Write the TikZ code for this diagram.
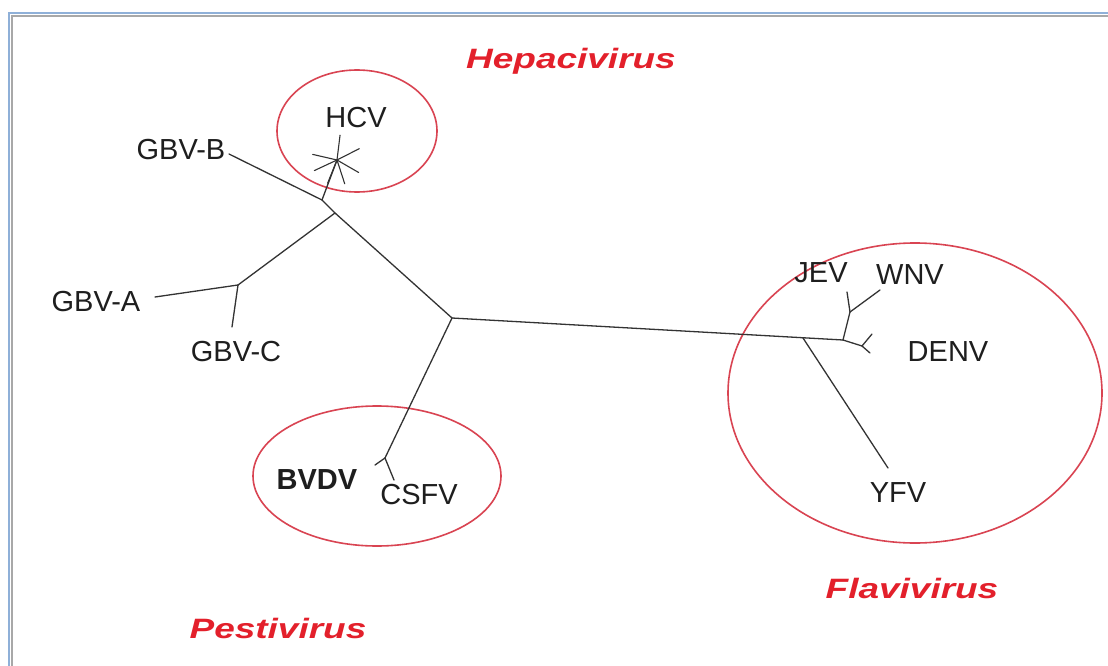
\documentclass[tikz,border=0pt]{standalone}
\usepackage{fontspec}
\usepackage{graphicx}
\setmainfont{Liberation Sans}
\definecolor{circred}{HTML}{D94452}
\definecolor{labred}{HTML}{E3202B}
\definecolor{branch}{HTML}{333333}
\definecolor{txt}{HTML}{1E1E1E}
\definecolor{frameblue}{HTML}{8FB0D8}
\definecolor{framegray}{HTML}{A8A8A8}
\tikzset{
  taxon/.style={inner sep=0pt, text=txt, font=\fontsize{29}{35}\selectfont},
  genus/.style={inner sep=0pt, anchor=base, text=labred, font=\fontsize{28}{34}\selectfont\bfseries\itshape},
  br/.style={draw=branch, line width=1.3pt, line cap=round, line join=round},
  grp/.style={draw=circred, line width=1.6pt},
}
\newcommand{\widelabel}[1]{\scalebox{1.32}[1]{#1}}
\begin{document}
\begin{tikzpicture}[x=1pt,y=-1pt]
\useasboundingbox (0,0) rectangle (1108,666);
\fill[white] (0,0) rectangle (1108,666);
% frame
\draw[frameblue, line width=2pt] (9,666) -- (9,13) -- (1108,13);
\draw[framegray, line width=2pt] (12,666) -- (12,16) -- (1108,16);

% group ellipses
\draw[grp] (357,131) ellipse [x radius=80, y radius=61];
\draw[grp] (377,476) ellipse [x radius=124, y radius=70];
\draw[grp] (915,393) ellipse [x radius=187, y radius=150];

% tree coordinates
\coordinate (C) at (452,318);
\coordinate (J1) at (322,200);
\coordinate (J2) at (335,213);
\coordinate (Bend) at (229,154);
\coordinate (S) at (337,160);
\coordinate (F1) at (238,285);
\coordinate (Aend) at (155,297);
\coordinate (Cend) at (232,327);
\coordinate (F2) at (385,458);
\coordinate (Pa) at (375,465);
\coordinate (Pb) at (394,480);
\coordinate (D1) at (843,340);
\coordinate (Y0) at (803,338);
\coordinate (Yend) at (888,468);
\coordinate (JW) at (850,312);
\coordinate (Jend) at (847,292);
\coordinate (Wend) at (880,290);
\coordinate (DF) at (862,346);
\coordinate (Da) at (872,334);
\coordinate (Db) at (870,353);

% branches
\draw[br] (Bend) -- (J1) -- (J2) -- (C);
\draw[br] (J1) -- (S);
\foreach \a in {72,30,-27,-83,193,155,112}
  \draw[br, line width=1.1pt] (S) -- ++(\a:25);
\draw[br] (J2) -- (F1);
\draw[br] (F1) -- (Aend);
\draw[br] (F1) -- (Cend);
\draw[br] (C) -- (F2);
\draw[br] (F2) -- (Pa);
\draw[br] (F2) -- (Pb);
\draw[br] (C) -- (D1);
\draw[br] (Y0) -- (Yend);
\draw[br] (D1) -- (JW);
\draw[br] (JW) -- (Jend);
\draw[br] (JW) -- (Wend);
\draw[br] (D1) -- (DF);
\draw[br] (DF) -- (Da);
\draw[br] (DF) -- (Db);

% taxon labels
\node[taxon] (gbvb) at (181,150) {GBV-B};
\node[taxon] (hcv) at (356,118) {HCV};
\node[taxon] (gbva) at (96,302) {GBV-A};
\node[taxon] (gbvc) at (236,352) {GBV-C};
\node[taxon] (jev) at (821,273) {JEV};
\node[taxon] (wnv) at (910,275) {WNV};
\node[taxon] (denv) at (948,352) {DENV};
\node[taxon] (yfv) at (898,493) {YFV};
\node[taxon, font=\fontsize{29}{35}\selectfont\bfseries] (bvdv) at (317,480) {BVDV};
\node[taxon] (csfv) at (419,495) {CSFV};

% genus labels
\node[genus] (hepa) at (571,69) {\widelabel{Hepacivirus}};
\node[genus] (pesti) at (278,638) {\widelabel{Pestivirus}};
\node[genus] (flavi) at (912,598) {\widelabel{Flavivirus}};
\end{tikzpicture}
\end{document}
